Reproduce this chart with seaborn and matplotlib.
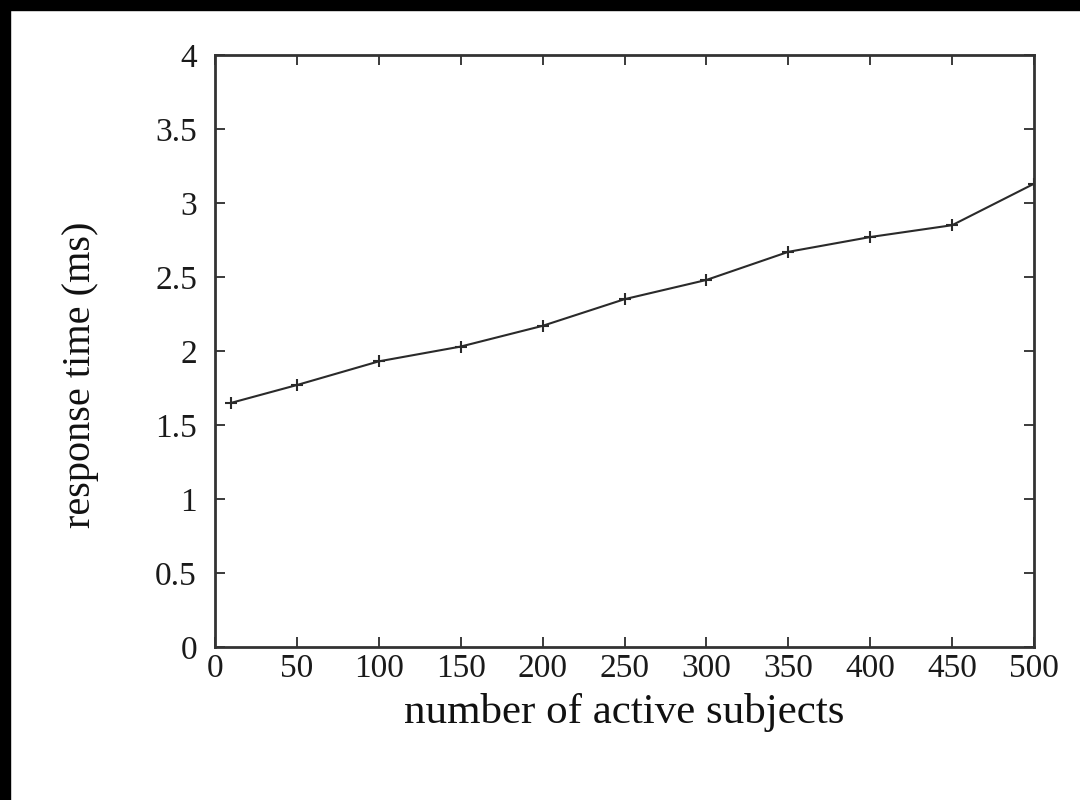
import matplotlib
matplotlib.use("Agg")
import matplotlib.pyplot as plt
import seaborn as sns
import pandas as pd
from matplotlib.patches import Rectangle

subjects = [10, 50, 100, 150, 200, 250, 300, 350, 400, 450, 500]
response_ms = [1.65, 1.77, 1.93, 2.03, 2.17, 2.35, 2.48, 2.67, 2.77, 2.85, 3.13]
x_ticks = [0, 50, 100, 150, 200, 250, 300, 350, 400, 450, 500]
y_ticks = [0, 0.5, 1, 1.5, 2, 2.5, 3, 3.5, 4]
y_tick_labels = ["0", "0.5", "1", "1.5", "2", "2.5", "3", "3.5", "4"]

sns.set_theme(style="ticks")
plt.rcParams['font.family'] = ['Liberation Serif', 'DejaVu Serif']

df = pd.DataFrame({"subjects": subjects, "response": response_ms})

fig = plt.figure(figsize=(10.8, 8), dpi=100)
ax = fig.add_axes([215/1080, 1 - 647/800, (1034-215)/1080, (647-55)/800])
sns.lineplot(data=df, x="subjects", y="response", ax=ax, color="#2a2a2a",
             linewidth=1.5, marker="+", markersize=9, markeredgewidth=1.5,
             markeredgecolor="#2a2a2a")

ax.set_xlim(0, 500)
ax.set_ylim(0, 4)
ax.set_xticks(x_ticks)
ax.set_yticks(y_ticks)
ax.set_yticklabels(y_tick_labels)
ax.tick_params(direction="in", length=7, width=1.2, top=True, right=True,
               labelsize=24, colors="#1a1a1a")
ax.tick_params(axis="y", pad=13)
ax.tick_params(axis="x", pad=5)
for s in ax.spines.values():
    s.set_linewidth(2)
    s.set_color("#333333")
ax.set_xlabel("number of active subjects", fontsize=31, labelpad=6, color="#111111")
ax.set_ylabel("response time (ms)", fontsize=29, color="#111111")
ax.yaxis.set_label_coords(-0.142, 0.46)

# black frame strips at top and left edges
fig.patches.append(Rectangle((0, 1 - 10/800), 1, 10/800, transform=fig.transFigure,
                             color="black", zorder=10))
fig.patches.append(Rectangle((0, 0), 10/1080, 1, transform=fig.transFigure,
                             color="black", zorder=10))

fig.savefig("out.png", dpi=100, facecolor="white")
